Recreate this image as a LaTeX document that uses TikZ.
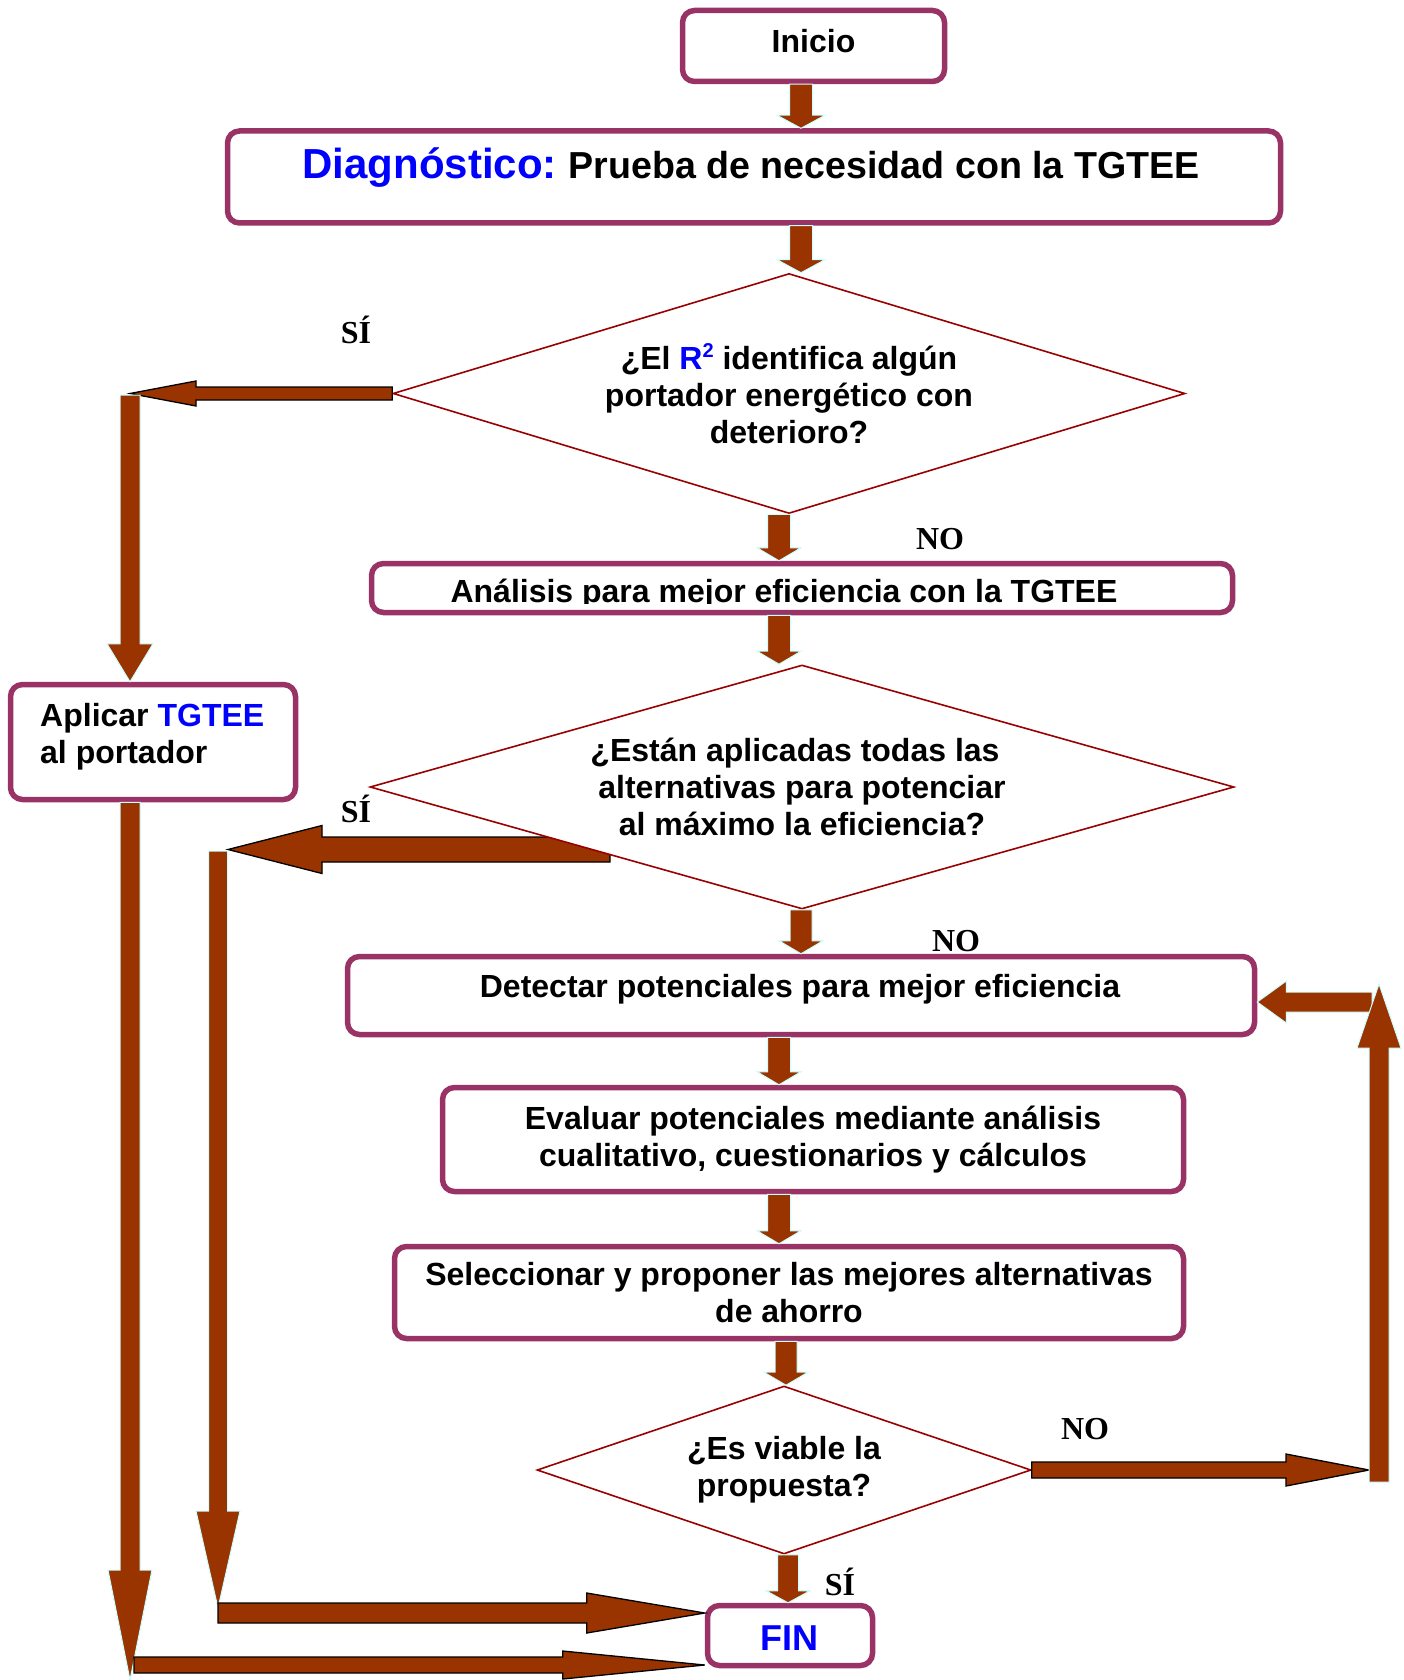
\documentclass[tikz,border=0pt]{standalone}
\usepackage{fontspec}
\setmainfont{Liberation Sans}
\newfontfamily\timesb{Liberation Serif}
\usetikzlibrary{calc,shapes.geometric,backgrounds}
\definecolor{boxc}{HTML}{993366}
\definecolor{arrf}{HTML}{993300}
\definecolor{arro}{HTML}{CCFFFF}
\definecolor{dmc}{HTML}{990000}
\definecolor{tblue}{HTML}{0000FF}
\tikzset{
 fbox/.style={draw=boxc, line width=5.5pt, rounded corners=12pt, fill=white, inner sep=0pt},
 dmd/.style={diamond, draw=dmc, line width=1.6pt, fill=white, inner sep=0pt, align=center, font=\bfseries\fontsize{32}{37}\selectfont},
 txt/.style={inner sep=0pt, font=\bfseries\fontsize{32}{37}\selectfont, align=center},
 lbl/.style={inner sep=0pt, font=\timesb\bfseries\fontsize{32}{37}\selectfont},
 barr/.style={fill=arrf, draw=arro, line width=1pt},
 barrk/.style={fill=arrf, draw=black, line width=1.3pt},
}
% block arrow: [style]{start}{tip}{half shaft}{half head}{head length}
\newcommand\blockarr[6][]{%
  \coordinate (ba-s) at (#2);
  \coordinate (ba-e) at (#3);
  \coordinate (ba-h) at ($(ba-e)!#6!(ba-s)$);
  \draw[barr,#1] ($(ba-s)!#4!90:(ba-e)$) -- ($(ba-h)!#4!90:(ba-e)$) -- ($(ba-h)!#5!90:(ba-e)$) -- (ba-e) -- ($(ba-h)!#5!-90:(ba-e)$) -- ($(ba-h)!#4!-90:(ba-e)$) -- ($(ba-s)!#4!-90:(ba-e)$) -- cycle;
}
\begin{document}
\begin{tikzpicture}[x=1pt,y=-1pt]
\useasboundingbox (0,0) rectangle (1404,1680);

% ---------- nodes ----------
\node[fbox, minimum width=262, minimum height=71] (inicio) at (813.5,46) {};
\node[txt, anchor=base] (inicioT) at (813.5,53) {Inicio};

\node[fbox, minimum width=1053, minimum height=92] (diag) at (754,177) {};
\node[txt, anchor=base] (diagT) at (751,179) {{\fontsize{42}{48}\selectfont\color{tblue}Diagnóstico:} {\fontsize{37.6}{44}\selectfont Prueba de necesidad con la TGTEE}};

\node[dmd, shape aspect=3.3, minimum width=792, minimum height=240] (d1) at (789,393.5)
 {¿El {\color{tblue}R\raisebox{12pt}{\fontsize{20}{20}\selectfont 2}} identifica algún\\portador energético con\\deterioro?};

\node[fbox, minimum width=861, minimum height=49] (ana) at (802,588) {};
\begin{scope}
 \clip (372,566) rectangle (1232,603.5);
 \node[txt, anchor=base] (anaT) at (784,602) {Análisis para mejor eficiencia con la TGTEE};
\end{scope}

\node[fbox, minimum width=285, minimum height=115] (apl) at (153,742) {};
\node[txt, align=left, anchor=north west] (aplT) at (40,703) {Aplicar {\color{tblue}TGTEE}\\al portador};

\node[fbox, minimum width=907, minimum height=78] (det) at (801,995.5) {};
\node[txt, anchor=base] (detT) at (800,997) {Detectar potenciales para mejor eficiencia};

\node[fbox, txt, minimum width=741, minimum height=104] (eva) at (813,1139.5)
 {Evaluar potenciales mediante análisis\\cualitativo, cuestionarios y cálculos};

\node[fbox, txt, minimum width=789, minimum height=92] (sel) at (789,1292.5)
 {Seleccionar y proponer las mejores alternativas\\de ahorro};

\node[dmd, shape aspect=2.94, minimum width=494, minimum height=168] (d3) at (784,1470)
 {\rule{0pt}{8pt}¿Es viable la\\propuesta?};

\node[fbox, minimum width=165, minimum height=60] (fin) at (790,1635.5) {};
\node[txt, anchor=base, font=\bfseries\fontsize{36}{40}\selectfont, text=tblue] (finT) at (789.5,1650) {FIN};

% SÍ arrow of second decision lies under the diamond
\coordinate (s2) at (610,849.5);
\coordinate (k2t) at (228,849.5);
\begin{pgfonlayer}{background}
 \fill[white] (0,0) rectangle (1404,1680);
 \blockarr[barrk]{s2}{k2t}{12.5pt}{24pt}{94pt}
\end{pgfonlayer}

\node[dmd, shape aspect=3.54, minimum width=864, minimum height=244] (d2) at (802,787)
 {¿Están aplicadas todas las\hspace*{14pt}\\alternativas para potenciar\\al máximo la eficiencia?};

% ---------- labels ----------
\node[lbl, anchor=base] (si1) at (356,343) {SÍ};
\node[lbl] (no1) at (940,539) {NO};
\node[lbl, anchor=base] (si2) at (356,822) {SÍ};
\node[lbl] (no2) at (956,941) {NO};
\node[lbl, anchor=base] (si3) at (840,1595) {SÍ};
\node[lbl] (no3) at (1085,1429) {NO};

% ---------- main flow arrows ----------
\blockarr{$(inicio.south)+(-12.5,0)$}{ba-s |- diag.north}{11.5pt}{24pt}{13pt}
\blockarr{$(diag.south)+(47,0)$}{ba-s |- d1.north}{11.5pt}{24pt}{13pt}
\blockarr{$(d1.south)+(-10,0)$}{ba-s |- ana.north}{11.5pt}{22pt}{13pt}
\blockarr{$(ana.south)+(-23,0)$}{ba-s |- d2.north}{11.5pt}{22pt}{13pt}
\blockarr{$(d2.south)+(-1,0)$}{ba-s |- det.north}{11pt}{22pt}{13pt}
\blockarr{$(det.south)+(-22,0)$}{ba-s |- eva.north}{11.5pt}{22pt}{13pt}
\blockarr{$(eva.south)+(-34,0)$}{ba-s |- sel.north}{11.5pt}{22pt}{13pt}
\blockarr{$(sel.south)+(-3,0)$}{ba-s |- d3.north}{11pt}{22pt}{13pt}
\blockarr{$(d3.south)+(4,0)$}{ba-s |- fin.north}{10.5pt}{22pt}{12pt}

% ---------- SÍ of first decision ----------
\coordinate (k1) at (130,393.5);
\blockarr[barrk]{d1.west}{k1}{6.5pt}{12.5pt}{66pt}
\blockarr{$(k1)+(0,1.5)$}{k1 |- apl.north}{10pt}{23pt}{38pt}
\coordinate (k3) at (130,1680);
\blockarr{k3 |- apl.south}{k3}{10pt}{22pt}{110pt}
\coordinate (k3b) at (134,1665);
\blockarr[barrk]{k3b}{k3b -| fin.west}{8pt}{14pt}{142pt}

% ---------- SÍ of second decision ----------
\coordinate (k2) at (218,851);
\coordinate (k2b) at (218,1608);
\blockarr{k2}{k2b}{9.5pt}{22pt}{97pt}
\coordinate (k4) at (218,1613);
\blockarr[barrk]{k4}{k4 -| fin.west}{10pt}{20pt}{118pt}

% ---------- NO of third decision ----------
\coordinate (k5) at (1369,1470);
\blockarr[barrk]{d3.east}{k5}{8pt}{16pt}{83pt}
\coordinate (k6) at (1372,1002);
\blockarr{k6}{k6 -| det.east}{10pt}{21pt}{29pt}
\coordinate (k7) at (1379,1482);
\coordinate (k8) at (1379,984);
\blockarr{k7}{k8}{10pt}{22pt}{64pt}
\end{tikzpicture}
\end{document}
